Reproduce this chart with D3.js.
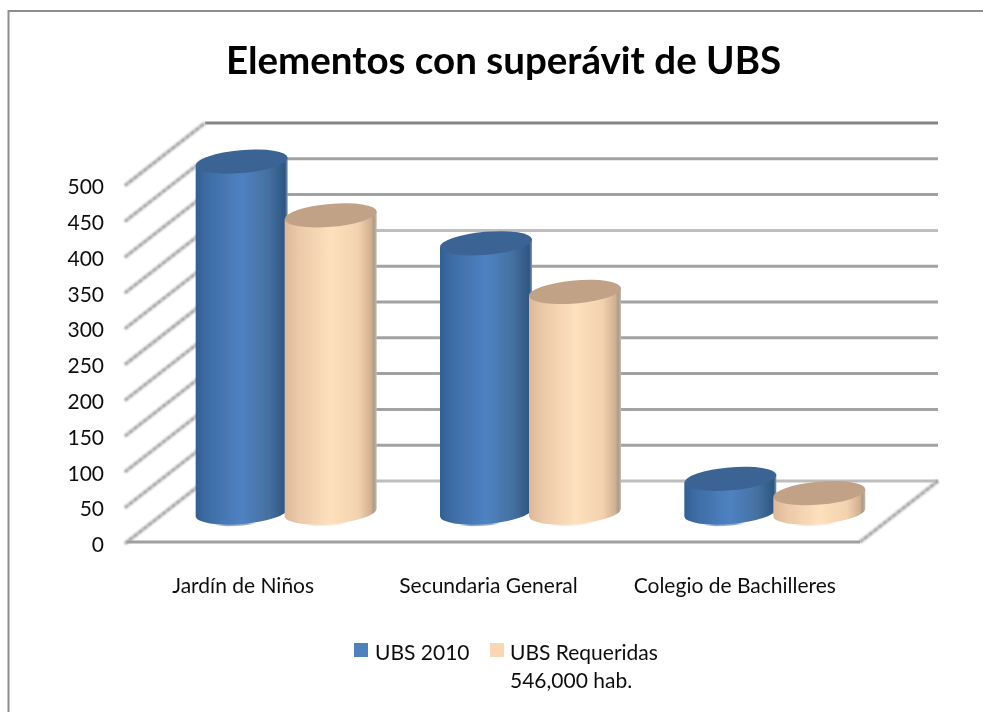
<!DOCTYPE html>
<html><head><meta charset="utf-8">
<script src="https://cdn.jsdelivr.net/npm/d3@7"></script>
<style>
html,body{margin:0;padding:0;background:#fff}
svg{display:block}
text{font-family:Lato,"Open Sans",sans-serif;fill:#111}
</style></head><body>
<script>
const titleText = "Elementos con superávit de UBS";
const categories = ["Jardín de Niños", "Secundaria General", "Colegio de Bachilleres"];
const seriesNames = ["UBS 2010", "UBS Requeridas"];
const legendLine2 = "546,000 hab.";
const ubs2010 = [490, 376, 47];
const ubsRequeridas = [415, 308, 27];
const yTicks = [0, 50, 100, 150, 200, 250, 300, 350, 400, 450, 500];
const lightTicks = [350, 0];

const W = 983, H = 712;
const depthX = 78, depthY = -61;
const left = 127, right = 860, y0 = 542, y500 = 184;
const barW = 92, rx = barW / 2, ry = 11.5, tilt = 4;

const svg = d3.select("body").append("svg").attr("width", W).attr("height", H);
const defs = svg.append("defs");
defs.append("filter").attr("id", "soft").attr("x", "-10%").attr("y", "-10%").attr("width", "120%").attr("height", "120%")
  .append("feGaussianBlur").attr("stdDeviation", 0.7);
defs.append("filter").attr("id", "textSoft").attr("x", "-5%").attr("y", "-20%").attr("width", "110%").attr("height", "140%")
  .append("feGaussianBlur").attr("stdDeviation", 0.3);
defs.append("filter").attr("id", "diag").attr("filterUnits", "userSpaceOnUse")
  .attr("x", 100).attr("y", 100).attr("width", 860).attr("height", 460)
  .append("feGaussianBlur").attr("stdDeviation", 0.8);

function grad(id, stops) {
  const g = defs.append("linearGradient").attr("id", id).attr("x1", 0).attr("x2", 1).attr("y1", 0).attr("y2", 0);
  stops.forEach(s => g.append("stop").attr("offset", s[0]).attr("stop-color", s[1]).attr("stop-opacity", s[2] === undefined ? 1 : s[2]));
}
grad("bodyBlue", [[0, "#315f93"], [.12, "#3d6ca4"], [.5, "#4f82c2"], [.8, "#44709f"], [.97, "#2f5682"], [1, "#7f97b3"]]);
grad("bodyPeach", [[0, "#dcb898"], [.15, "#ecc9a8"], [.5, "#fde0bd"], [.8, "#f3d2af"], [.94, "#d0b091"], [.97, "#ab9a8a"], [1, "#c4bbb2"]]);
grad("rimBlue", [[.2, "#8eabd2", 0], [.3, "#8eabd2"], [.55, "#8eabd2"], [.65, "#8eabd2", 0]]);
grad("rimPeach", [[.2, "#fbeadb", 0], [.3, "#fbeadb"], [.6, "#fbeadb"], [.7, "#fbeadb", 0]]);

const styles = [
  { body: "url(#bodyBlue)", top: "#3b6493", rim: "url(#rimBlue)", key: "#4f81bd" },
  { body: "url(#bodyPeach)", top: "#c2a287", rim: "url(#rimPeach)", key: "#fcd5b5" }
];

svg.append("path").attr("d", `M8.5,${H} V11 H${W}`).attr("fill", "none").attr("stroke", "#8e8e8e").attr("stroke-width", 2);

const y = d3.scaleLinear().domain([0, 500]).range([y0, y500]);
const xCat = d3.scaleBand().domain(categories).range([left, right]);
const xSer = d3.scalePoint().domain(seriesNames).range([-44.5, 44.5]);

svg.append("text").attr("x", 503.5).attr("y", 74).attr("text-anchor", "middle").attr("filter", "url(#textSoft)")
  .attr("font-size", 38.5).attr("font-weight", 700).style("fill", "#000").text(titleText);

svg.append("g").selectAll("line").data(yTicks).join("line")
  .attr("x1", left + depthX).attr("x2", right + depthX)
  .attr("y1", d => y(d) + depthY).attr("y2", d => y(d) + depthY)
  .attr("stroke", d => d === 500 ? "#858585" : lightTicks.includes(d) ? "#bdbdbd" : "#a2a2a2")
  .attr("stroke-width", 3);

const sideG = svg.append("g").attr("filter", "url(#diag)");
sideG.selectAll("line.a").data(yTicks).join("line").attr("class", "a")
  .attr("x1", left - 2).attr("x2", left + depthX)
  .attr("y1", d => y(d) + 1.5).attr("y2", d => y(d) + depthY)
  .attr("stroke", "#c0c0c0").attr("stroke-width", 3.6);
sideG.selectAll("line.b").data(yTicks).join("line").attr("class", "b")
  .attr("x1", left - 2).attr("x2", left + depthX)
  .attr("y1", d => y(d) + 1.5).attr("y2", d => y(d) + depthY)
  .attr("stroke", "#707070").attr("stroke-width", 1.5).attr("stroke-dasharray", "3 3");

svg.append("line").attr("x1", left).attr("x2", right).attr("y1", y0).attr("y2", y0).attr("stroke", "#a0a0a0").attr("stroke-width", 3);
const rightWall = svg.append("g").attr("filter", "url(#diag)");
[["#c0c0c0", 3.6, null], ["#707070", 1.5, "3 3"]].forEach(s => rightWall.append("line")
  .attr("x1", right).attr("y1", y0).attr("x2", right + depthX).attr("y2", y0 + depthY)
  .attr("stroke", s[0]).attr("stroke-width", s[1]).attr("stroke-dasharray", s[2]));

const rows = categories.flatMap((c, i) => [
  { c, s: seriesNames[0], v: ubs2010[i], st: styles[0] },
  { c, s: seriesNames[1], v: ubsRequeridas[i], st: styles[1] }
]);
const baseY = y0 + depthY / 2 + 1;
const rot = -Math.atan2(tilt, rx) * 180 / Math.PI;
const ellR = Math.hypot(rx, tilt);
const bars = svg.append("g").selectAll("g").data(rows).join("g").attr("filter", "url(#soft)")
  .attr("transform", d => `translate(${xCat(d.c) + xCat.bandwidth() / 2 + depthX / 2 - 2 + xSer(d.s)},0)`);
bars.append("ellipse").attr("cx", 0).attr("cy", baseY + 1.5).attr("rx", ellR).attr("ry", ry)
  .attr("transform", `rotate(${rot} 0 ${baseY + 1.5})`).attr("fill", d => d.st.rim);
bars.append("path").attr("fill", d => d.st.body).attr("d", d => {
  const t = y(d.v) + depthY / 2 + 1;
  return `M${-rx},${t + tilt} L${-rx},${baseY + tilt} A${ellR},${ry} ${rot} 0 0 ${rx},${baseY - tilt} L${rx},${t - tilt} Z`;
});
bars.append("ellipse").attr("cx", 0).attr("cy", d => y(d.v) + depthY / 2 + 1).attr("rx", ellR).attr("ry", ry)
  .attr("transform", d => `rotate(${rot} 0 ${y(d.v) + depthY / 2 + 1})`).attr("fill", d => d.st.top);

const yAxis = d3.axisLeft(y).tickValues(yTicks).tickSize(0).tickPadding(0).tickFormat(d3.format("d"));
const yG = svg.append("g").attr("transform", "translate(104,3)").call(yAxis);
yG.select(".domain").remove();
yG.selectAll("text").attr("font-size", 21).attr("font-family", "Lato").style("fill", "#111").attr("filter", "url(#textSoft)");

svg.append("g").selectAll("text").data(categories).join("text")
  .attr("x", (d, i) => xCat(d) + xCat.bandwidth() / 2 - 3 + [-3, -2, 0][i]).attr("y", 593).attr("text-anchor", "middle")
  .attr("font-size", 21).attr("filter", "url(#textSoft)").text(d => d);

const lg = svg.append("g");
const keyX = [354, 490], labX = [375, 510];
lg.selectAll("rect").data(seriesNames).join("rect")
  .attr("x", (d, i) => keyX[i]).attr("y", 643).attr("width", 14).attr("height", 14)
  .attr("fill", (d, i) => styles[i].key);
lg.selectAll("text.n").data(seriesNames).join("text").attr("class", "n")
  .attr("x", (d, i) => labX[i]).attr("y", 660).attr("font-size", 21).attr("filter", "url(#textSoft)").text(d => d);
lg.append("text").attr("x", labX[1]).attr("y", 688).attr("font-size", 21).attr("filter", "url(#textSoft)").text(legendLine2);
</script>
</body></html>
